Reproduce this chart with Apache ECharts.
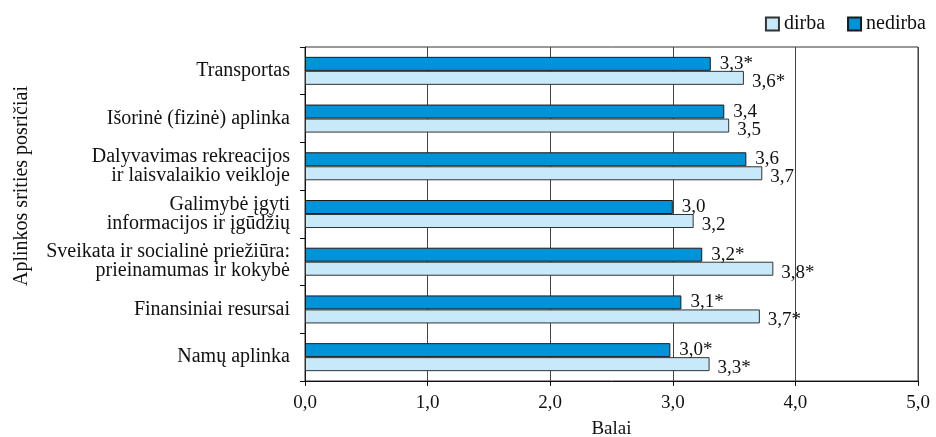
<!DOCTYPE html>
<html><head><meta charset="utf-8">
<script src="https://cdn.jsdelivr.net/npm/echarts@6/dist/echarts.min.js"></script>
<style>html,body{margin:0;padding:0;background:#fff}#c{width:936px;height:437px}</style>
</head><body><div id="c"></div>
<script>
const categories = [
  'Transportas',
  'Išorinė (fizinė) aplinka',
  'Dalyvavimas rekreacijos\nir laisvalaikio veikloje',
  'Galimybė įgyti\ninformacijos ir įgūdžių',
  'Sveikata ir socialinė priežiūra:\nprieinamumas ir kokybė',
  'Finansiniai resursai',
  'Namų aplinka'
];
const nedirba = [3.31, 3.42, 3.60, 3.00, 3.24, 3.07, 2.98];
const dirba   = [3.58, 3.46, 3.73, 3.17, 3.82, 3.71, 3.30];
const nedirbaLabels = ['3,3*', '3,4', '3,6', '3,0', '3,2*', '3,1*', '3,0*'];
const dirbaLabels   = ['3,6*', '3,5', '3,7', '3,2', '3,8*', '3,7*', '3,3*'];
const xTicks = ['0,0', '1,0', '2,0', '3,0', '4,0', '5,0'];

const FONT = 'Liberation Serif';
const chart = echarts.init(document.getElementById('c'));
chart.setOption({
  animation: false,
  textStyle: { fontFamily: FONT, color: '#111' },
  legend: {
    data: ['dirba', 'nedirba'],
    right: 5, top: 9,
    icon: 'rect',
    itemWidth: 13, itemHeight: 13, itemGap: 22,
    textStyle: { fontFamily: FONT, fontSize: 20, color: '#111' }
  },
  grid: { left: 305, right: 18, top: 47, bottom: 56, show: true, borderColor: '#333', borderWidth: 1,
    containLabel: false, outerBoundsMode: 'none' },
  xAxis: {
    type: 'value', min: 0, max: 5, interval: 1,
    name: 'Balai', nameLocation: 'middle', nameGap: 39,
    nameTextStyle: { fontFamily: FONT, fontSize: 19, color: '#111' },
    axisLine: { show: true, lineStyle: { color: '#111' } },
    axisTick: { show: true, length: 5, lineStyle: { color: '#111' } },
    axisLabel: { fontFamily: FONT, fontSize: 19, color: '#111', margin: 13,
      formatter: (v) => xTicks[Math.round(v)] },
    splitLine: { show: true, lineStyle: { color: '#444', width: 1 } }
  },
  yAxis: {
    type: 'category', inverse: true, data: categories,
    name: 'Aplinkos srities posričiai', nameLocation: 'middle', nameGap: 273,
    nameTextStyle: { fontFamily: FONT, fontSize: 20, color: '#111', padding: [0, 0, 0, 56] },
    axisLine: { show: true, lineStyle: { color: '#111' } },
    axisTick: { show: true, length: 5, lineStyle: { color: '#111' } },
    axisLabel: { fontFamily: FONT, fontSize: 20, color: '#111', margin: 15, lineHeight: 19 }
  },
  series: [
    {
      name: 'nedirba', type: 'bar', data: nedirba,
      barWidth: 14, barGap: '0%',
      itemStyle: { color: '#0093d8', borderColor: '#1a1a1a', borderWidth: 1 },
      label: { show: true, position: 'right', distance: 9, offset: [0, 0],
        fontFamily: FONT, fontSize: 19, color: '#111',
        formatter: (p) => nedirbaLabels[p.dataIndex] }
    },
    {
      name: 'dirba', type: 'bar', data: dirba,
      barWidth: 14, barGap: '0%',
      itemStyle: { color: '#c8e9f9', borderColor: '#333', borderWidth: 1 },
      label: { show: true, position: 'right', distance: 8, offset: [0, 4],
        fontFamily: FONT, fontSize: 19, color: '#111',
        formatter: (p) => dirbaLabels[p.dataIndex] }
    }
  ]
});
</script></body></html>
